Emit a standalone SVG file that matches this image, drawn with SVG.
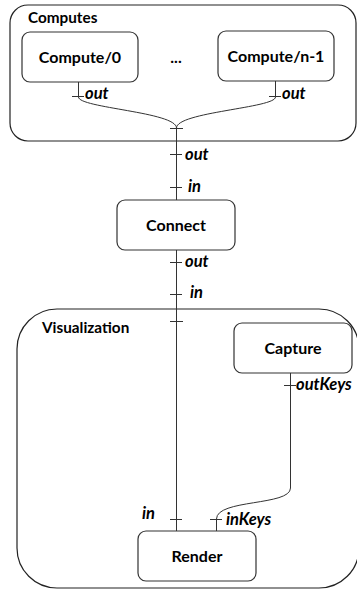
<svg xmlns="http://www.w3.org/2000/svg" width="357" height="590" viewBox="0 0 357 590">
<style>
.cluster{fill:none;stroke:#222;stroke-width:1.2}
.node rect{fill:#fff;stroke:#333;stroke-width:1.2}
.nt{font-family:Lato,"Open Sans",sans-serif;font-weight:bold;font-size:16px;fill:#000;text-anchor:middle}
.ct{font-family:Lato,"Open Sans",sans-serif;font-weight:bold;font-size:15.3px;fill:#000}
.pt{font-family:Lato,"Open Sans",sans-serif;font-weight:bold;font-style:italic;font-size:16.5px;fill:#000}
.e{fill:none;stroke:#333;stroke-width:1}
</style>
<g id="cluster-computes">
<rect class="cluster" x="10" y="5" width="346" height="136" rx="18"/>
<text class="ct" x="28" y="23">Computes</text>
</g>
<g id="cluster-visualization">
<rect class="cluster" x="17" y="309" width="342" height="279" rx="40"/>
<text class="ct" x="42" y="333">Visualization</text>
</g>
<g id="connectors">
<path class="e" d="M78.5,82 V97 C78.5,108 176.5,112 176.5,128"/>
<path class="e" d="M275.5,81 V97 C275.5,108 176.5,112 176.5,128"/>
<path class="e" d="M176.5,128 V200"/>
<path class="e" d="M176.5,250 V531"/>
<path class="e" d="M290.5,373 V488 C290.5,506 216.5,499 216.5,519 V531"/>
<path class="e" d="M72,96.5 H84 M269,96.5 H281 M170,128.5 H183 M170,154.5 H182 M170,187.5 H182 M170,262.5 H182 M170,294.5 H182 M170,321.5 H183 M170,519.5 H182 M210,519.5 H222 M284,385.5 H296"/>
<text class="pt" x="85" y="98.5">out</text>
<text class="pt" x="282" y="98.5">out</text>
<text class="pt" x="185" y="160">out</text>
<text class="pt" x="188" y="191.5">in</text>
<text class="pt" x="185" y="266.5">out</text>
<text class="pt" x="190" y="298">in</text>
<text class="pt" x="142" y="518.5">in</text>
<text class="pt" x="226" y="525">inKeys</text>
<text class="pt" x="296" y="390">outKeys</text>
</g>
<g id="compute0" class="node">
<rect x="22" y="32" width="116" height="50" rx="8"/>
<text class="nt" x="80" y="63">Compute/0</text>
</g>
<g id="ellipsis">
<text class="nt" x="176" y="63">...</text>
</g>
<g id="computen1" class="node">
<rect x="218" y="31" width="116" height="50" rx="8"/>
<text class="nt" x="276" y="62">Compute/n-1</text>
</g>
<g id="connect" class="node">
<rect x="117" y="200" width="118" height="50" rx="8"/>
<text class="nt" x="176" y="231">Connect</text>
</g>
<g id="capture" class="node">
<rect x="234" y="323" width="118" height="50" rx="8"/>
<text class="nt" x="293" y="354">Capture</text>
</g>
<g id="render" class="node">
<rect x="138" y="531" width="118" height="50" rx="8"/>
<text class="nt" x="197" y="562">Render</text>
</g>
</svg>
